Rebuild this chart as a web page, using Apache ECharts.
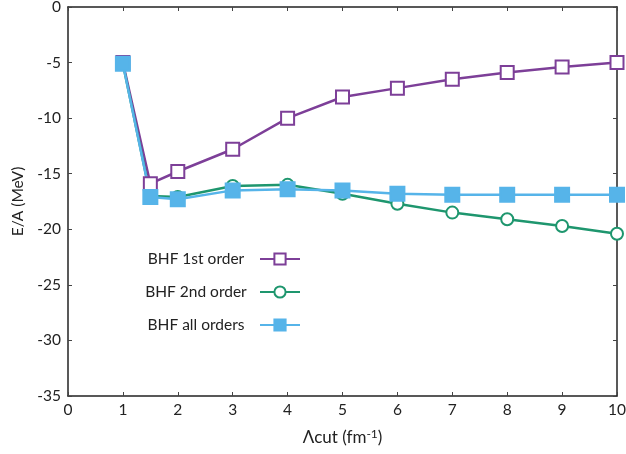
<!DOCTYPE html>
<html>
<head>
<meta charset="utf-8">
<script src="https://cdn.jsdelivr.net/npm/echarts@6/dist/echarts.min.js"></script>
<style>
  html, body { margin: 0; padding: 0; background: #fff; }
  #chart { width: 626px; height: 454px; }
</style>
</head>
<body>
<div id="chart"></div>
<script>
// cutoff values (fm^-1)
var lambdaCut = [1, 1.5, 2, 3, 4, 5, 6, 7, 8, 9, 10];
// E/A in MeV
var bhfFirst  = [-5.0, -15.9, -14.8, -12.8, -10.0, -8.1, -7.3, -6.5, -5.9, -5.4, -5.0];
var bhfSecond = [-5.1, -17.0, -17.1, -16.1, -16.0, -16.8, -17.7, -18.5, -19.1, -19.7, -20.4];
var bhfAll    = [-5.1, -17.1, -17.3, -16.5, -16.4, -16.5, -16.8, -16.9, -16.9, -16.9, -16.9];
var seriesNames = ['BHF 1st order', 'BHF 2nd order', 'BHF all orders'];

var FONT = 'Lato';

function pairs(ys){
	var out = [];
	for (var i = 0; i < lambdaCut.length; i++) {
		out.push([lambdaCut[i], ys[i]]);
	}
	return out;
}

function lineSeries(name, ys, color, symbol, size){
	return {
		name: name,
		type: 'line',
		data: pairs(ys),
		symbol: symbol,
		symbolSize: size,
		showAllSymbol: true,
		lineStyle: { color: color, width: 2.5 },
		itemStyle: { color: color, borderColor: color, borderWidth: 2 },
		emphasis: { disabled: true },
		animation: false
	};
}

var axisLine = { show: true, onZero: false, lineStyle: { color: '#222', width: 1.5 } };
var axisTick = { show: true, inside: true, length: 4, lineStyle: { color: '#444', width: 1 } };

var chart = echarts.init(document.getElementById('chart'));
chart.setOption({
	backgroundColor: '#fff',
	animation: false,
	grid: { left: 68, right: 9, top: 7, bottom: 58, containLabel: false, outerBoundsMode: 'none' },
	legend: {
		orient: 'vertical',
		left: 132,
		top: 246,
		align: 'right',
		itemWidth: 40,
		itemHeight: 14,
		itemGap: 17,
		data: seriesNames,
		formatter: function(name){ return '{t|' + name + '}'; },
		textStyle: {
			fontFamily: FONT,
			fontSize: 15,
			color: '#222',
			rich: { t: { width: 118, align: 'center', fontFamily: FONT, fontSize: 15.5, color: '#222', lineHeight: 14 } }
		}
	},
	xAxis: [{
		type: 'value',
		min: 0, max: 10, interval: 1,
		name: 'Λcut (fm{s|-1})',
		nameLocation: 'middle',
		nameGap: 32,
		nameTextStyle: {
			fontFamily: FONT, fontSize: 17, color: '#222',
			rich: { s: { fontFamily: FONT, fontSize: 12, color: '#222', verticalAlign: 'top', padding: [0, 0, 8, 0] } }
		},
		axisLine: axisLine,
		axisTick: axisTick,
		splitLine: { show: false },
		axisLabel: { fontFamily: FONT, fontSize: 15.5, color: '#222', margin: 6 }
	}, {
		type: 'value',
		position: 'top',
		min: 0, max: 10, interval: 1,
		axisLine: axisLine,
		axisTick: axisTick,
		splitLine: { show: false },
		axisLabel: { show: false }
	}],
	yAxis: [{
		type: 'value',
		min: -35, max: 0, interval: 5,
		name: 'E/A (MeV)',
		nameLocation: 'middle',
		nameGap: 41,
		nameTextStyle: { fontFamily: FONT, fontSize: 15.5, color: '#222' },
		axisLine: axisLine,
		axisTick: axisTick,
		splitLine: { show: false },
		axisLabel: { fontFamily: FONT, fontSize: 15.5, color: '#222', margin: 7 }
	}, {
		type: 'value',
		position: 'right',
		min: -35, max: 0, interval: 5,
		axisLine: axisLine,
		axisTick: axisTick,
		splitLine: { show: false },
		axisLabel: { show: false }
	}],
	series: [
		lineSeries(seriesNames[0], bhfFirst, '#7d3f98', 'emptyRect', 13),
		lineSeries(seriesNames[1], bhfSecond, '#1e966e', 'emptyCircle', 12),
		lineSeries(seriesNames[2], bhfAll, '#56b4e9', 'rect', 14)
	]
});
</script>
</body>
</html>
